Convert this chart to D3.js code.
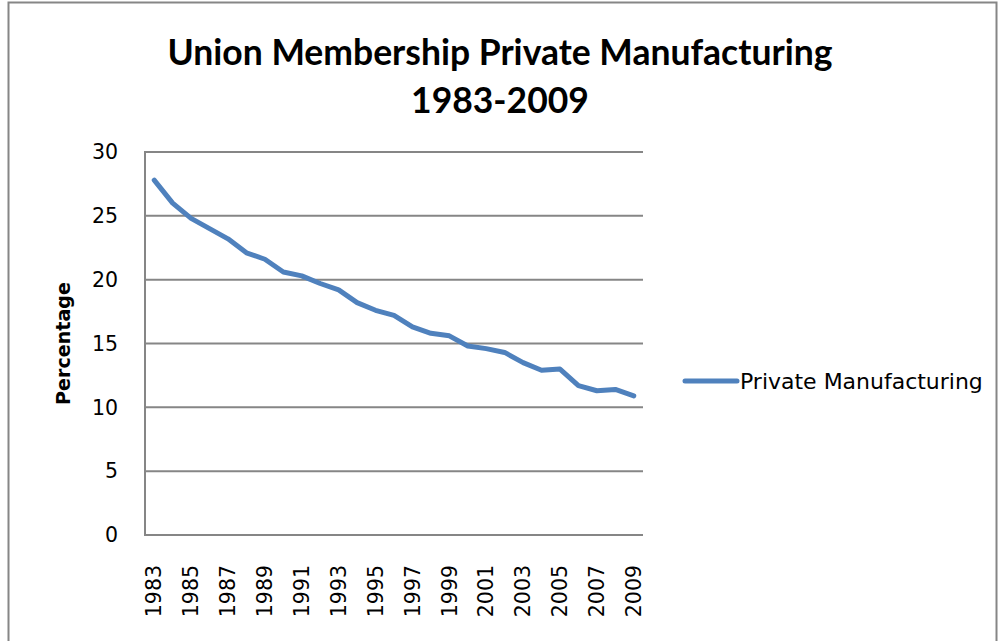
<!DOCTYPE html>
<html>
<head>
<meta charset="utf-8">
<script src="https://cdn.jsdelivr.net/npm/d3@7"></script>
<style>
  body { margin: 0; background: #fff; }
  svg { display: block; }
</style>
</head>
<body>
<div id="chart"></div>
<script>
// chart data
const years = [1983, 1984, 1985, 1986, 1987, 1988, 1989, 1990, 1991, 1992, 1993, 1994, 1995, 1996,
  1997, 1998, 1999, 2000, 2001, 2002, 2003, 2004, 2005, 2006, 2007, 2008, 2009];
const privateManufacturing = [27.8, 26.0, 24.8, 24.0, 23.2, 22.1, 21.6, 20.6, 20.3, 19.7, 19.2, 18.2,
  17.6, 17.2, 16.3, 15.8, 15.6, 14.8, 14.6, 14.3, 13.5, 12.9, 13.0, 11.7, 11.3, 11.4, 10.9];
const yTicks = [0, 5, 10, 15, 20, 25, 30];
const xTickLabels = years.filter((d, i) => i % 2 === 0);
const titleLines = ["Union Membership Private Manufacturing", "1983-2009"];
const seriesName = "Private Manufacturing";
const yAxisTitle = "Percentage";

const W = 1000, H = 641;
const MARGIN = { top: 152, right: 357, bottom: 106, left: 145 };
const width = W - MARGIN.left - MARGIN.right;
const height = H - MARGIN.top - MARGIN.bottom;
const FONT = "'DejaVu Sans', sans-serif";

const svg = d3.select("#chart").append("svg")
  .attr("width", W)
  .attr("height", H);

// scale a text's font so that it spans the given width
function fitWidth(sel, target) {
  const fs = +sel.attr("font-size");
  const w = sel.node().getComputedTextLength();
  sel.attr("font-size", fs * target / w);
}

// outer frame
svg.append("rect")
  .attr("x", 8.5).attr("y", 2.5)
  .attr("width", 988).attr("height", 650)
  .attr("fill", "none")
  .attr("stroke", "#868686")
  .attr("stroke-width", 2);

// title
const title = svg.append("text")
  .attr("text-anchor", "middle")
  .attr("font-family", "Lato, 'Open Sans', sans-serif")
  .attr("font-weight", "bold")
  .attr("font-size", 30)
  .attr("fill", "#000");
title.append("tspan").attr("x", 500).attr("y", 65).text(titleLines[0]);
title.append("tspan").attr("x", 500).attr("y", 113).text(titleLines[1]);
// fit the first line to the reference width
const tw = title.select("tspan").node().getComputedTextLength();
title.attr("font-size", 30 * 665 / tw);

const g = svg.append("g")
  .attr("transform", `translate(${MARGIN.left},${MARGIN.top})`);

const x = d3.scaleBand().domain(years).range([0, width]);
const y = d3.scaleLinear().domain([0, 30]).range([height, 0]);

// gridlines
g.append("g")
  .selectAll("line")
  .data(yTicks)
  .join("line")
  .attr("x1", 0).attr("x2", width)
  .attr("y1", (d) => y(d)).attr("y2", (d) => y(d))
  .attr("stroke", "#868686")
  .attr("stroke-width", 2);

// left axis line
g.append("line")
  .attr("x1", 0).attr("x2", 0)
  .attr("y1", -1).attr("y2", height + 1)
  .attr("stroke", "#868686")
  .attr("stroke-width", 2);

// y tick labels
g.append("g")
  .selectAll("text")
  .data(yTicks)
  .join("text")
  .attr("x", -27)
  .attr("y", (d) => y(d))
  .attr("dy", "0.35em")
  .attr("text-anchor", "end")
  .attr("font-family", FONT)
  .attr("font-size", 20.5)
  .text((d) => d);

// x tick labels (every other year)
g.append("g")
  .selectAll("text")
  .data(xTickLabels)
  .join("text")
  .attr("transform", (d) => `translate(${x(d) + x.bandwidth() / 2},${height + 30}) rotate(-90)`)
  .attr("dy", "0.35em")
  .attr("text-anchor", "end")
  .attr("font-family", FONT)
  .attr("font-size", 20.5)
  .text((d) => d);

// y axis title
const yTitle = svg.append("text")
  .attr("transform", `translate(63,${MARGIN.top + height / 2}) rotate(-90)`)
  .attr("text-anchor", "middle")
  .attr("dy", "0.35em")
  .attr("font-family", FONT)
  .attr("font-weight", "bold")
  .attr("font-size", 17)
  .text(yAxisTitle);
fitWidth(yTitle, 123);

// series line
const line = d3.line()
  .x((d, i) => x(years[i]) + x.bandwidth() / 2)
  .y((d) => y(d));

g.append("path")
  .datum(privateManufacturing)
  .attr("fill", "none")
  .attr("stroke", "#4F81BD")
  .attr("stroke-width", 5)
  .attr("stroke-linejoin", "round")
  .attr("stroke-linecap", "round")
  .attr("d", line);

// legend
const legend = svg.append("g").attr("transform", "translate(685,381)");
legend.append("line")
  .attr("x1", 0).attr("x2", 52)
  .attr("stroke", "#4F81BD")
  .attr("stroke-width", 5)
  .attr("stroke-linecap", "round");
const legendText = legend.append("text")
  .attr("x", 55)
  .attr("dy", "0.35em")
  .attr("font-family", FONT)
  .attr("font-size", 19)
  .text(seriesName);
fitWidth(legendText, 243);
</script>
</body>
</html>
